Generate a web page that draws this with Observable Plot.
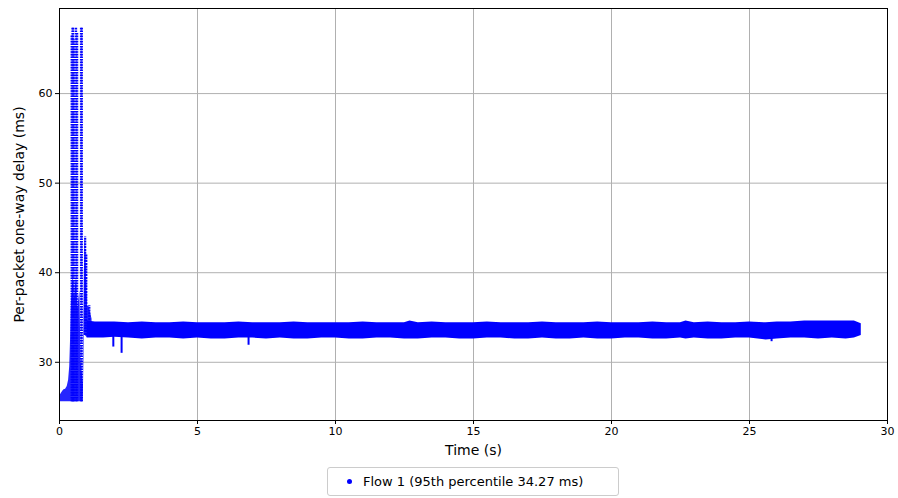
<!DOCTYPE html>
<html><head><meta charset="utf-8">
<script src="https://cdn.jsdelivr.net/npm/d3@7"></script>
<script src="https://cdn.jsdelivr.net/npm/@observablehq/plot@0.6"></script>
<style>
body{margin:0;background:#fff;font-family:"DejaVu Sans",sans-serif;}
#wrap{position:relative;width:898px;height:498px;}
#legend{position:absolute;left:327px;top:467px;width:292px;height:29px;border:1px solid #ccc;border-radius:3px;box-sizing:border-box;font-size:13px;display:flex;align-items:center;background:#fff;}
#legend .dot{width:5px;height:5px;border-radius:50%;background:blue;margin-left:19px;margin-right:11px;}
</style></head><body>
<div id="wrap"><div id="chart"></div><div id="legend"><span class="dot"></span><span>Flow 1 (95th percentile 34.27 ms)</span></div></div>
<script>
// steady band (time s, low ms, high ms)
const bandT  = [1.0, 1.3, 1.6, 2.0, 2.5, 3.0, 3.5, 4.0, 4.5, 5.0, 5.5, 6.0, 6.5, 7.0, 7.5, 8.0, 8.5, 9.0, 9.5, 10.0, 10.5, 11.0, 11.5, 12.0, 12.5, 12.7, 13.0, 13.5, 14.0, 14.5, 15.0, 15.5, 16.0, 16.5, 17.0, 17.5, 18.0, 18.5, 19.0, 19.5, 20.0, 20.5, 21.0, 21.5, 22.0, 22.5, 22.7, 23.0, 23.5, 24.0, 24.5, 25.0, 25.6, 26.0, 26.5, 27.0, 27.5, 28.0, 28.5, 28.8, 29.05];
const bandLo = [32.7, 32.7, 32.7, 32.8, 32.7, 32.6, 32.7, 32.7, 32.6, 32.7, 32.6, 32.6, 32.7, 32.7, 32.6, 32.7, 32.6, 32.6, 32.7, 32.7, 32.6, 32.6, 32.7, 32.7, 32.6, 32.6, 32.6, 32.7, 32.7, 32.6, 32.6, 32.7, 32.7, 32.6, 32.6, 32.7, 32.6, 32.6, 32.7, 32.6, 32.6, 32.7, 32.7, 32.6, 32.6, 32.7, 32.6, 32.7, 32.6, 32.6, 32.7, 32.7, 32.5, 32.6, 32.7, 32.7, 32.6, 32.7, 32.6, 32.7, 33.0];
const bandHi = [34.6, 34.5, 34.5, 34.5, 34.4, 34.5, 34.4, 34.4, 34.5, 34.4, 34.4, 34.4, 34.5, 34.4, 34.4, 34.4, 34.5, 34.4, 34.4, 34.4, 34.4, 34.5, 34.4, 34.4, 34.4, 34.6, 34.4, 34.5, 34.4, 34.4, 34.4, 34.5, 34.4, 34.4, 34.4, 34.5, 34.4, 34.4, 34.4, 34.5, 34.4, 34.4, 34.4, 34.5, 34.4, 34.4, 34.6, 34.4, 34.5, 34.4, 34.4, 34.5, 34.4, 34.5, 34.5, 34.6, 34.6, 34.6, 34.6, 34.6, 34.3];
// start-up dense region (time s, low ms, high ms)
const denseT  = [0.02, 0.08, 0.15, 0.22, 0.28, 0.33, 0.37, 0.40, 0.43, 0.46, 0.50, 0.54, 0.58, 0.62, 0.66, 0.70, 0.74, 0.78, 0.82, 0.86, 0.90, 0.93, 0.96, 0.99, 1.02, 1.06, 1.12, 1.18];
const denseLo = [25.6, 25.6, 25.6, 25.6, 25.6, 25.6, 25.6, 25.6, 25.6, 25.6, 25.6, 25.6, 25.6, 25.6, 25.6, 25.6, 25.6, 25.6, 25.6, 25.6, 33.0, 33.0, 32.9, 32.8, 32.8, 32.8, 32.8, 32.8];
const denseHi = [26.3, 26.6, 26.9, 27.0, 27.3, 28.0, 29.5, 32.5, 36.5, 38.0, 40.0, 37.0, 38.5, 39.5, 36.0, 37.0, 38.0, 30.0, 29.0, 27.5, 40.0, 44.0, 42.0, 38.5, 36.2, 36.3, 35.6, 34.8];
// dotted start-up spikes (time s, top ms)
const spikeT  = [0.44, 0.47, 0.50, 0.53, 0.60, 0.64, 0.78, 0.81];
const spikeHi = [66.5, 67.4, 67.4, 66.0, 67.4, 66.8, 67.4, 67.4];
const spikeLo = 25.6;
// secondary peak columns (time s, low ms, high ms)
const peakT  = [0.93, 0.97, 1.08];
const peakLo = [33.0, 33.0, 32.8];
const peakHi = [44.0, 42.0, 36.3];
// isolated dips (time s, low ms)
const dipT  = [1.95, 2.25, 6.85, 25.8];
const dipLo = [31.7, 31.0, 31.9, 32.3];

const band = bandT.map((t, i) => ({t, lo: bandLo[i], hi: bandHi[i]}));
const dense = denseT.map((t, i) => ({t, lo: denseLo[i], hi: denseHi[i]}));
const spikes = spikeT.map((t, i) => ({t, lo: spikeLo, hi: spikeHi[i]}));
const peaks = peakT.map((t, i) => ({t, lo: peakLo[i], hi: peakHi[i]}));
const dips = dipT.map((t, i) => ({t, lo: dipLo[i], hi: 33.0}));

const chart = Plot.plot({
  width: 898, height: 466,
  marginLeft: 59, marginRight: 11, marginTop: 8, marginBottom: 46,
  style: {fontFamily: "DejaVu Sans", fontSize: "10px", color: "black", background: "white"},
  x: {domain: [0, 30], ticks: [0, 5, 10, 15, 20, 25, 30], label: null},
  y: {domain: [23.5, 69.5], ticks: [30, 40, 50, 60], label: null},
  marks: [
    Plot.gridX({ticks: [5, 10, 15, 20, 25], stroke: "#b0b0b0", strokeOpacity: 1, strokeWidth: 1}),
    Plot.gridY({ticks: [30, 40, 50, 60], stroke: "#b0b0b0", strokeOpacity: 1, strokeWidth: 1}),
    Plot.areaY(band, {x: "t", y1: "lo", y2: "hi", fill: "blue"}),
    Plot.areaY(dense, {x: "t", y1: "lo", y2: "hi", fill: "blue", fillOpacity: 0.85}),
    Plot.ruleX(spikes, {x: "t", y1: "lo", y2: "hi", stroke: "blue", strokeWidth: 2.2, strokeDasharray: "1.6,1"}),
    Plot.ruleX(peaks, {x: "t", y1: "lo", y2: "hi", stroke: "blue", strokeWidth: 2.2, strokeDasharray: "2,0.8"}),
    Plot.ruleX(dips, {x: "t", y1: "lo", y2: "hi", stroke: "blue", strokeWidth: 2}),
    Plot.axisX({ticks: [0, 5, 10, 15, 20, 25, 30], tickSize: 4, tickPadding: 3, label: null, fontSize: 11}),
    Plot.axisY({ticks: [30, 40, 50, 60], tickSize: 4, tickPadding: 3, label: null, fontSize: 11}),
    Plot.frame({stroke: "black", strokeWidth: 1}),
    Plot.text(["Time (s)"], {frameAnchor: "bottom", textAnchor: "middle", dy: 34, fontSize: 14, fill: "black"}),
    Plot.text(["Per-packet one-way delay (ms)"], {frameAnchor: "left", textAnchor: "middle", dx: -40, rotate: -90, fontSize: 14, fill: "black"})
  ]
});
document.getElementById("chart").appendChild(chart);
</script></body></html>
